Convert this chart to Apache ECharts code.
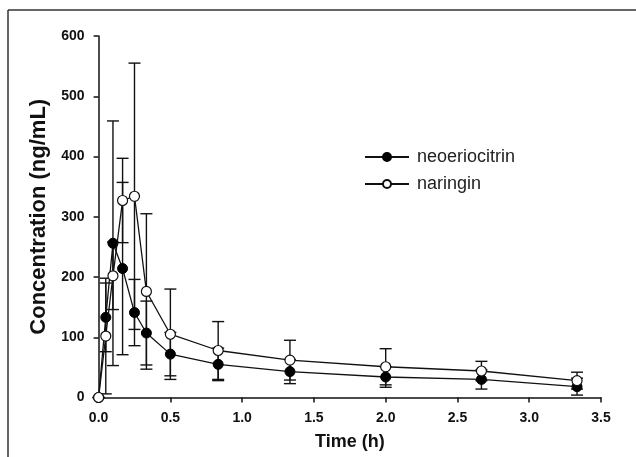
<!DOCTYPE html>
<html>
<head>
<meta charset="utf-8">
<script src="https://cdn.jsdelivr.net/npm/echarts@6/dist/echarts.min.js"></script>
<style>
html,body{margin:0;padding:0;background:#fff;}
#chart{width:636px;height:457px;}
</style>
</head>
<body>
<div id="chart"></div>
<script>
// Data
var times   = [0, 0.05, 0.1, 0.167, 0.25, 0.333, 0.5, 0.833, 1.333, 2.0, 2.667, 3.333];
var neoMean = [0, 133, 256, 214, 141, 107, 72, 55, 43, 34, 30, 18];
var neoSD   = [0, 57, 203, 143, 55, 53, 36, 27, 20, 17, 16, 14];
var narMean = [0, 102, 202, 327, 334, 176, 105, 78, 62, 51, 44, 28];
var narSD   = [0, 96, 56, 70, 221, 129, 75, 48, 33, 30, 16, 14];
var xTicks  = [0, 0.5, 1.0, 1.5, 2.0, 2.5, 3.0, 3.5];
var yTicks  = [0, 100, 200, 300, 400, 500, 600];

var SANS = "'Liberation Sans',Arial,sans-serif";

function pairs(xs, ys) { return xs.map(function (x, i) { return [x, ys[i]]; }); }
function errData(xs, m, sd) {
  return xs.map(function (x, i) { return [x, m[i] - sd[i], m[i] + sd[i]]; });
}
function errRender(params, api) {
  var x = api.value(0);
  var lo = api.coord([x, api.value(1)]);
  var hi = api.coord([x, api.value(2)]);
  var hw = 6;
  var st = { stroke: '#111', lineWidth: 1.4, fill: null };
  return {
    type: 'group',
    children: [
      { type: 'line', shape: { x1: lo[0], y1: lo[1], x2: hi[0], y2: hi[1] }, style: st },
      { type: 'line', shape: { x1: hi[0] - hw, y1: hi[1], x2: hi[0] + hw, y2: hi[1] }, style: st },
      { type: 'line', shape: { x1: lo[0] - hw, y1: lo[1], x2: lo[0] + hw, y2: lo[1] }, style: st }
    ]
  };
}

var chart = echarts.init(document.getElementById('chart'), null, { renderer: 'canvas' });
chart.setOption({
  animation: false,
  backgroundColor: '#fff',
  grid: { left: 98.6, right: 35, top: 36, bottom: 59.5 },
  xAxis: {
    type: 'value', min: 0, max: 3.5, interval: 0.5,
    name: 'Time (h)', nameLocation: 'middle', nameGap: 36,
    nameTextStyle: { fontFamily: SANS, fontWeight: 'bold', fontSize: 18, color: '#111' },
    axisLine: { onZero: false, lineStyle: { color: '#111', width: 1.5 } },
    axisTick: { show: true, length: 5, lineStyle: { color: '#111', width: 1.5 } },
    splitLine: { show: false },
    axisLabel: {
      margin: 14, color: '#111', fontFamily: SANS, fontWeight: 'bold', fontSize: 14,
      formatter: function (v) { return xTicks.indexOf(v) >= 0 ? v.toFixed(1) : ''; }
    }
  },
  yAxis: {
    type: 'value', min: 0, max: 600, interval: 100,
    name: 'Concentration (ng/mL)', nameLocation: 'middle', nameGap: 40, nameRotate: 90,
    nameTextStyle: { fontFamily: SANS, fontWeight: 'bold', fontSize: 22, color: '#111' },
    axisLine: { show: true, lineStyle: { color: '#111', width: 1.5 } },
    axisTick: { show: true, length: 5, lineStyle: { color: '#111', width: 1.5 } },
    splitLine: { show: false },
    axisLabel: {
      margin: 14, color: '#111', fontFamily: SANS, fontWeight: 'bold', fontSize: 14,
      formatter: function (v) { return yTicks.indexOf(v) >= 0 ? String(v) : ''; }
    }
  },
  legend: {
    left: 364, top: 148, orient: 'vertical', itemGap: 9, padding: 0,
    itemWidth: 44, itemHeight: 10,
    textStyle: { fontFamily: SANS, fontSize: 18, color: '#222', padding: [0, 0, 0, 3] },
    data: ['neoeriocitrin', 'naringin']
  },
  graphic: [
    { type: 'line', shape: { x1: 8, y1: 10, x2: 636, y2: 10 }, style: { stroke: '#333', lineWidth: 1.5 }, silent: true },
    { type: 'line', shape: { x1: 8, y1: 10, x2: 8, y2: 457 }, style: { stroke: '#333', lineWidth: 1.5 }, silent: true }
  ],
  series: [
    { type: 'custom', name: 'neoErr', renderItem: errRender, data: errData(times, neoMean, neoSD), z: 1, silent: true },
    { type: 'custom', name: 'narErr', renderItem: errRender, data: errData(times, narMean, narSD), z: 1, silent: true },
    {
      type: 'line', name: 'neoeriocitrin', data: pairs(times, neoMean), z: 3,
      symbol: 'circle', symbolSize: 10, showAllSymbol: true,
      lineStyle: { color: '#111', width: 1.3 },
      itemStyle: { color: '#000', borderColor: '#000', borderWidth: 1 }
    },
    {
      type: 'line', name: 'naringin', data: pairs(times, narMean), z: 4,
      symbol: 'circle', symbolSize: 10, showAllSymbol: true,
      lineStyle: { color: '#111', width: 1.3 },
      itemStyle: { color: '#fff', borderColor: '#111', borderWidth: 1.2 }
    }
  ]
});
</script>
</body>
</html>
